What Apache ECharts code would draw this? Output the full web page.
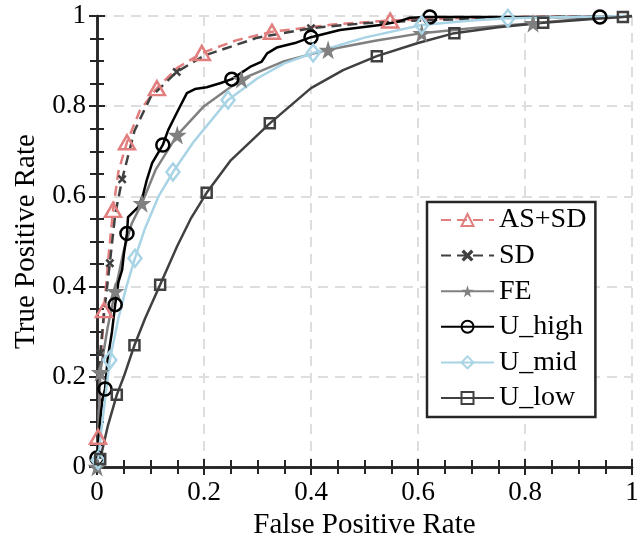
<!DOCTYPE html>
<html>
<head>
<meta charset="utf-8">
<script src="https://cdn.jsdelivr.net/npm/echarts@6/dist/echarts.min.js"></script>
<style>
html,body{margin:0;padding:0;background:#fff;}
#chart{width:643px;height:539px;}
</style>
</head>
<body>
<div id="chart"></div>
<script>
// ---- data (x = False Positive Rate, y = True Positive Rate) ----
const seriesNames = ['AS+SD', 'SD', 'FE', 'U_high', 'U_mid', 'U_low'];
const xTicks = [0, 0.2, 0.4, 0.6, 0.8, 1];
const yTicks = [0, 0.2, 0.4, 0.6, 0.8, 1];

const asSdPts = [[0,0],[0.002,0.067],[0.006,0.2],[0.013,0.348],[0.021,0.46],[0.030,0.57],[0.040,0.655],[0.056,0.72],[0.080,0.79],[0.112,0.84],[0.150,0.885],[0.196,0.918],[0.260,0.946],[0.327,0.965],[0.440,0.981],[0.548,0.99],[0.700,0.996],[0.850,0.999],[1,1]];
const asSdMarks = [1,3,5,7,9,11,13,15];

const sdPts = [[0,0],[0.003,0.12],[0.006,0.253],[0.014,0.35],[0.024,0.452],[0.034,0.56],[0.047,0.638],[0.07,0.745],[0.1,0.82],[0.149,0.876],[0.2,0.912],[0.3,0.952],[0.4,0.973],[0.5,0.984],[0.6,0.99],[0.8,0.997],[1,1]];
const sdMarks = [2,4,6,9,12];

const fePts = [[0,0],[0.003,0.1],[0.006,0.21],[0.02,0.31],[0.034,0.39],[0.05,0.48],[0.065,0.54],[0.084,0.585],[0.11,0.66],[0.15,0.736],[0.2,0.8],[0.27,0.86],[0.35,0.9],[0.432,0.925],[0.52,0.945],[0.607,0.962],[0.7,0.973],[0.815,0.984],[0.9,0.993],[1,1]];
const feMarks = [0,2,4,7,9,11,13,15,17];

const uHighPts = [[0,0.02],[0.004,0.08],[0.01,0.15],[0.015,0.173],[0.02,0.24],[0.028,0.3],[0.034,0.36],[0.04,0.41],[0.047,0.437],[0.05,0.47],[0.056,0.518],[0.058,0.554],[0.077,0.576],[0.086,0.603],[0.093,0.636],[0.103,0.674],[0.123,0.714],[0.133,0.747],[0.149,0.785],[0.168,0.829],[0.183,0.838],[0.205,0.842],[0.23,0.851],[0.252,0.86],[0.286,0.887],[0.308,0.899],[0.318,0.917],[0.336,0.93],[0.37,0.94],[0.40,0.953],[0.454,0.969],[0.529,0.98],[0.561,0.987],[0.585,0.996],[0.622,0.998],[0.8,0.998],[0.94,0.998],[1,1]];
const uHighMarks = [0,3,6,10,16,23,29,34,36];

const uMidPts = [[0.002,0.015],[0.01,0.1],[0.024,0.237],[0.04,0.33],[0.055,0.4],[0.071,0.463],[0.09,0.53],[0.115,0.6],[0.142,0.654],[0.18,0.72],[0.245,0.814],[0.3,0.862],[0.35,0.895],[0.404,0.918],[0.5,0.952],[0.607,0.98],[0.7,0.99],[0.768,0.995],[0.88,0.998],[1,1]];
const uMidMarks = [0,2,5,8,10,13,15,17];

const uLowPts = [[0.006,0.018],[0.02,0.09],[0.037,0.16],[0.05,0.2],[0.07,0.27],[0.09,0.33],[0.118,0.404],[0.15,0.49],[0.175,0.55],[0.205,0.608],[0.25,0.68],[0.323,0.762],[0.4,0.84],[0.46,0.88],[0.523,0.911],[0.6,0.94],[0.668,0.962],[0.75,0.975],[0.834,0.985],[0.92,0.993],[0.983,0.998],[1,1]];
const uLowMarks = [0,2,4,6,9,11,14,16,18,20];

// ---- styling ----
const FONT = 'Liberation Serif';
const AX = '#262626';
const STAR = 'path://M50,0 L61,35 L98,35 L68,57 L79,91 L50,70 L21,91 L32,57 L2,35 L39,35 Z';
const XMARK = 'path://M0,2 L2,0 L5,3 L8,0 L10,2 L7,5 L10,8 L8,10 L5,7 L2,10 L0,8 L3,5 Z';
const LW = 2.5;

function mk(pts, marks) {
  return pts.map((p, i) => marks.indexOf(i) >= 0 ? p : { value: p, symbol: 'none' });
}

function lineSeries(name, pts, marks, color, dashed, symbol, size, hollow) {
  return {
    name: name, type: 'line', xAxisIndex: 0, yAxisIndex: 0,
    data: mk(pts, marks),
    symbol: symbol, symbolSize: size, showSymbol: true,
    lineStyle: { color: color, width: LW, type: dashed ? [10, 6] : 'solid' },
    itemStyle: hollow
      ? { color: 'rgba(255,255,255,0)', borderColor: color, borderWidth: 2.5 }
      : { color: color, borderWidth: 0 },
    emphasis: { disabled: true },
    animation: false
  };
}

const chart = echarts.init(document.getElementById('chart'), null, { renderer: 'canvas' });

function makeAxis(extra) {
  return Object.assign({
    type: 'value', min: 0, max: 1, interval: 0.2,
    axisLine: { show: true, lineStyle: { color: AX, width: 2.5 } },
    axisTick: { show: true, inside: true, length: 8, lineStyle: { color: AX, width: 2 } },
    minorTick: { show: true, splitNumber: 4, length: 7, lineStyle: { color: AX, width: 2 } }
  }, extra);
}

const hiddenLabel = { show: true, color: 'rgba(0,0,0,0)', fontFamily: FONT, fontSize: 8, margin: 2 };

const option = {
  backgroundColor: '#fff',
  animation: false,
  grid: {
    left: 97, top: 16, right: 11, bottom: 72,
    outerBoundsContain: 'axisLabel',
    outerBounds: { left: -60, top: -60, right: -60, bottom: -60 }
  },
  xAxis: [
    makeAxis({
      position: 'bottom',
      name: 'False Positive Rate', nameLocation: 'middle', nameGap: 35,
      nameTextStyle: { fontFamily: FONT, fontSize: 29, color: '#000' },
      axisLabel: { show: true, margin: 12, fontFamily: FONT, fontSize: 27, color: '#000',
        formatter: v => String(xTicks.find(t => Math.abs(t - v) < 1e-9) ?? v) },
      splitLine: { show: true, lineStyle: { color: '#dedede', width: 2, type: [10, 7] } }
    }),
    makeAxis({
      position: 'top', axisLabel: hiddenLabel, splitLine: { show: false }
    })
  ],
  yAxis: [
    makeAxis({
      position: 'left',
      name: 'True Positive Rate', nameLocation: 'middle', nameGap: 56, nameRotate: 90,
      nameTextStyle: { fontFamily: FONT, fontSize: 29, color: '#000' },
      axisLabel: { show: true, margin: 11, fontFamily: FONT, fontSize: 27, color: '#000',
        formatter: v => String(yTicks.find(t => Math.abs(t - v) < 1e-9) ?? v) },
      splitLine: { show: true, lineStyle: { color: '#dedede', width: 2, type: [10, 7] } }
    }),
    makeAxis({
      position: 'right', axisLabel: hiddenLabel, splitLine: { show: false }
    })
  ],
  legend: {
    data: seriesNames,
    orient: 'vertical',
    left: 427, top: 202,
    backgroundColor: '#fff',
    borderColor: AX, borderWidth: 2.5, borderRadius: 0,
    padding: [3, 9, 4, 13],
    itemWidth: 53, itemHeight: 15, itemGap: 5.6,
    textStyle: { fontFamily: FONT, fontSize: 28, color: '#000', lineHeight: 30 },
    selectedMode: false
  },
  series: [
    lineSeries(seriesNames[0], asSdPts, asSdMarks, '#e17e7e', true, 'triangle', [16, 14], true),
    lineSeries(seriesNames[1], sdPts, sdMarks, '#404040', true, XMARK, 9, false),
    lineSeries(seriesNames[2], fePts, feMarks, '#808080', false, STAR, 19, false),
    lineSeries(seriesNames[3], uHighPts, uHighMarks, '#000000', false, 'circle', 13, true),
    lineSeries(seriesNames[4], uMidPts, uMidMarks, '#a8d4e6', false, 'diamond', [13, 17], true),
    lineSeries(seriesNames[5], uLowPts, uLowMarks, '#404040', false, 'rect', 10, true)
  ]
};
chart.setOption(option);
</script>
</body>
</html>
